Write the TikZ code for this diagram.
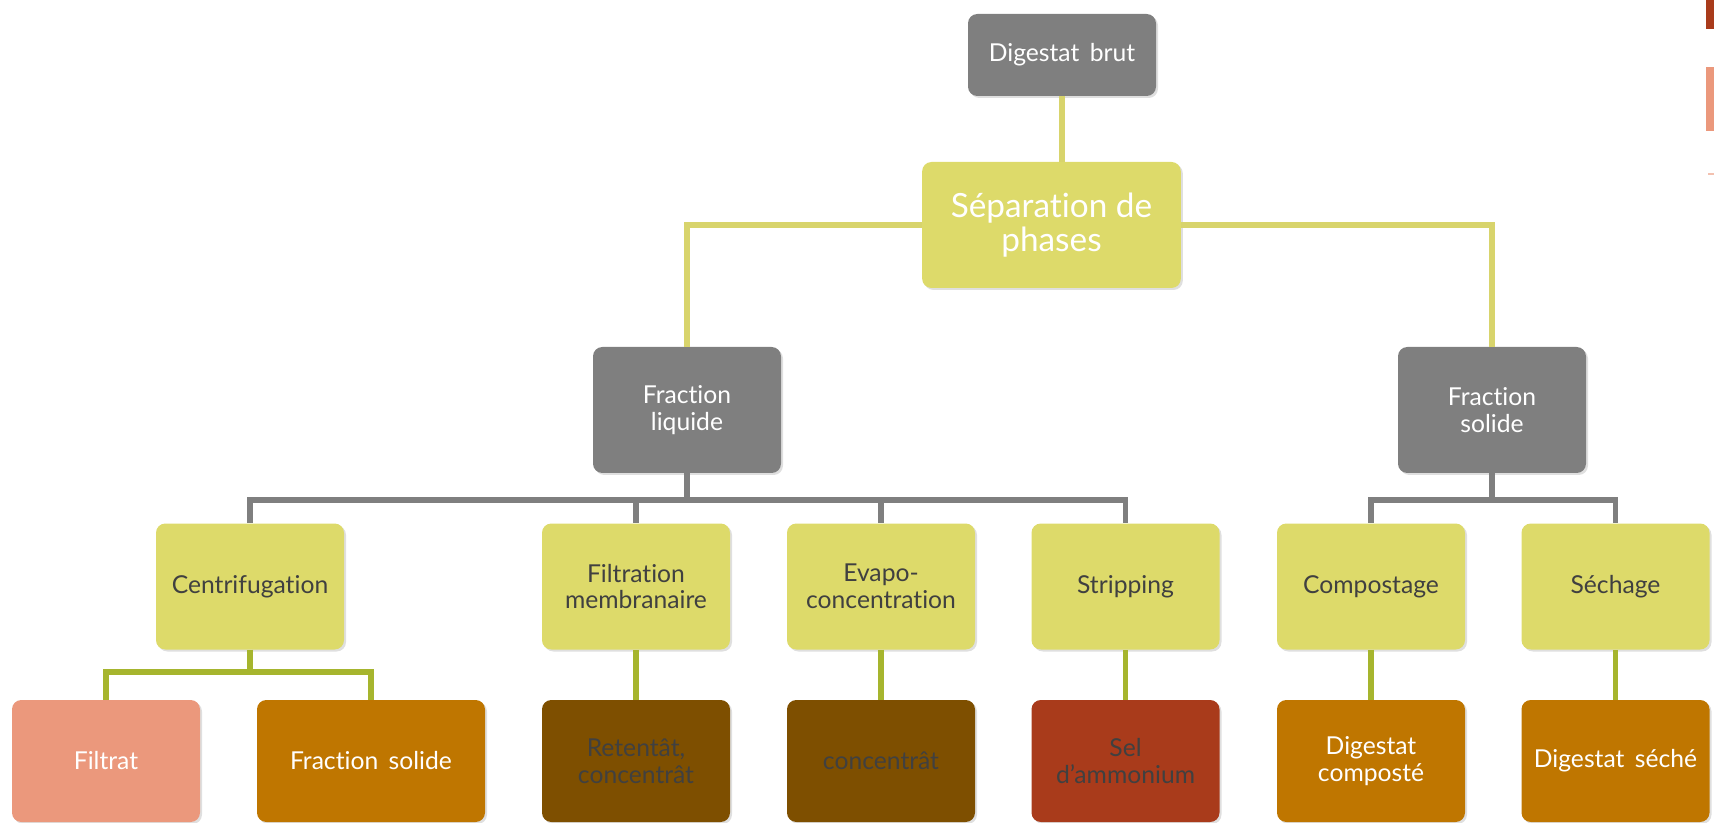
\documentclass[tikz,border=0pt]{standalone}
\usepackage{fontspec}
\setmainfont{Lato}[Ligatures=NoCommon]
\usetikzlibrary{positioning,shadows}
\definecolor{boxgray}{HTML}{7F7F7F}
\definecolor{boxyellow}{HTML}{DDDA6A}
\definecolor{lineyellow}{HTML}{D8D46C}
\definecolor{linegreen}{HTML}{A6B52E}
\definecolor{salmon}{HTML}{EB987C}
\definecolor{ochre}{HTML}{BF7600}
\definecolor{brown}{HTML}{7E4F00}
\definecolor{rust}{HTML}{A93B1B}
\definecolor{textdark}{HTML}{404040}
\tikzset{box/.style={
    rounded corners=7pt, align=center, inner sep=2pt,
    minimum width=141pt, minimum height=94.5pt,
    font=\fontsize{18.5}{20}\selectfont, text=white,
    drop shadow={shadow xshift=1.5pt,shadow yshift=-1.5pt,opacity=0.25}
    },
    greybox/.style={box,fill=boxgray},
    stepbox/.style={box,fill=boxyellow,text=textdark},
    endbox/.style={box,minimum height=91.5pt,fill=#1},
    topline/.style={line width=4pt,draw=lineyellow},
    greyline/.style={line width=4pt,draw=boxgray},
    greenline/.style={line width=4pt,draw=linegreen}
}
\begin{document}
\begin{tikzpicture}[x=0.75pt,y=-0.75pt]
	\useasboundingbox (0,0) rectangle (1714,823);

	\node[greybox,minimum height=61.5pt] (brut) at (1062,55) {Digestat\, brut};
	\node[box,fill=boxyellow,minimum width=194pt,font=\fontsize{25}{25}\selectfont] (sep) at (1051.5,225) {Séparation de\\phases};

	\node[greybox] (liq) at (687,410) {Fraction\\liquide};
	\node[greybox] (sol) at (1492,410) {Fraction\\solide};

	\node[stepbox] (centri) at (250,586.5) {Centrifugation};
	\node[stepbox] (filt) at (636,586.5) {Filtration\\membranaire};
	\node[stepbox] (evap) at (881,586.5) {Evapo-\\concentration};
	\node[stepbox] (strip) at (1125.5,586.5) {Stripping};
	\node[stepbox] (compo) at (1371,586.5) {Compostage};
	\node[stepbox] (sech) at (1615.5,586.5) {Séchage};

	\node[endbox=salmon] (filtrat) at (106,761) {Filtrat};
	\node[endbox=ochre,minimum width=171pt] (frsol) at (371,761) {Fraction\, solide};
	\node[endbox=brown,text=textdark] (reten) at (636,761) {Retentât,\\concentrât};
	\node[endbox=brown,text=textdark] (conc) at (881,761) {concentrât};
	\node[endbox=rust,text=textdark] (sel) at (1125.5,761) {Sel\\d’ammonium};
	\node[endbox=ochre] (dcomp) at (1371,761) {Digestat\\composté};
	\node[endbox=ochre] (dsech) at (1615.5,761) {Digestat\, séché};

	\coordinate (liqbar) at (687,500);
	\coordinate (solbar) at (1492,500);
	\coordinate (cbar) at (250,672);

	\draw[topline] (brut.south) -- (brut.south |- sep.north);
	\draw[topline] (sep.west) -| (liq.north);
	\draw[topline] (sep.east) -| (sol.north);

	\foreach \c in {centri,filt,evap,strip}
		\draw[greyline] (liq.south) |- (\c.north |- liqbar) -- (\c.north);
	\foreach \c in {compo,sech}
		\draw[greyline] (sol.south) |- (\c.north |- solbar) -- (\c.north);

	\foreach \c in {filtrat,frsol}
		\draw[greenline] (centri.south) |- (\c.north |- cbar) -- (\c.north);
	\draw[greenline] (filt) -- (reten);
	\draw[greenline] (evap) -- (conc);
	\draw[greenline] (strip) -- (sel);
	\draw[greenline] (compo) -- (dcomp);
	\draw[greenline] (sech) -- (dsech);

	\fill[rust] (1706,0) rectangle (1714,29);
	\fill[salmon] (1706,67) rectangle (1714,131);
	\fill[salmon!60] (1708,173) rectangle (1714,175);
\end{tikzpicture}
\end{document}
